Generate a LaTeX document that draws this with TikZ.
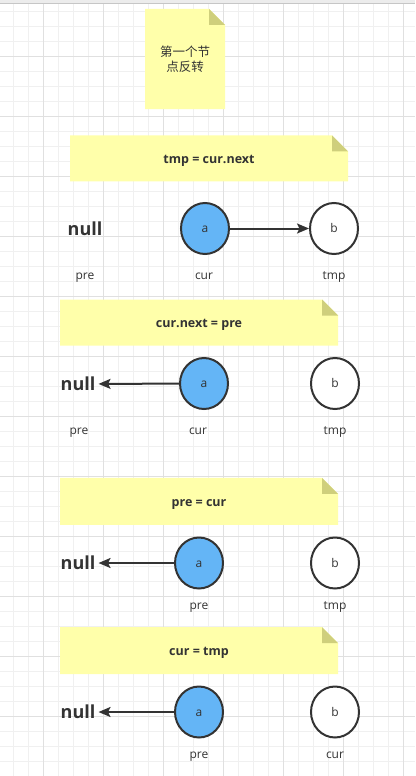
\documentclass[tikz,border=0pt]{standalone}
\usepackage{fontspec}
\setmainfont{Open Sans}
\newfontfamily\cjkfont{Noto Sans CJK SC}
\usetikzlibrary{arrows.meta,shapes.geometric}
\definecolor{notefill}{HTML}{FFFFAA}
\definecolor{notefold}{HTML}{CFCF7C}
\definecolor{nodeblue}{HTML}{64B5F6}
\definecolor{ink}{HTML}{333333}
\definecolor{gridminor}{HTML}{F0F0F0}
\definecolor{gridmajor}{HTML}{E0E0E0}

\begin{document}
\begin{tikzpicture}[x=1pt,y=-1pt]
    \tikzstyle{note}=[rectangle,inner sep=0pt,minimum width=278pt,minimum height=46pt,text=ink,text height=12.5pt,text depth=2pt,
        font=\fontsize{12.5}{15}\selectfont\bfseries,
        path picture={
            \fill[notefill] (path picture bounding box.south west) -- (path picture bounding box.north west)
                -- ([xshift=-16pt]path picture bounding box.north east) -- ([yshift=-16pt]path picture bounding box.north east)
                -- (path picture bounding box.south east) -- cycle;
            \fill[notefold] ([xshift=-16pt]path picture bounding box.north east) -- ([xshift=-16pt,yshift=-16pt]path picture bounding box.north east)
                -- ([yshift=-16pt]path picture bounding box.north east) -- cycle;
        }]
    \tikzstyle{listnode}=[ellipse,draw=ink,line width=2pt,minimum width=48pt,minimum height=51pt,inner sep=0pt,text=ink,
        text height=9pt,text depth=1pt,font=\fontsize{12}{14}\selectfont]
    \tikzstyle{nullnode}=[inner sep=3pt,text=ink,text height=14pt,text depth=1pt,font=\fontsize{18}{20}\selectfont\bfseries]
    \tikzstyle{varname}=[text=ink,text height=9pt,text depth=1pt,font=\fontsize{12}{14}\selectfont]
    \tikzstyle{link}=[ink,line width=2pt,-{Stealth[length=12pt,width=10pt,inset=2.5pt]}]
    \useasboundingbox (0,0) rectangle (415,776);
    \fill[white] (0,0) rectangle (415,776);
    % grid
    \foreach \x in {13.3,28.3,...,410} \draw[gridminor,line width=1pt] (\x,0) -- (\x,776);
    \foreach \y in {11.7,26.7,...,776} \draw[gridminor,line width=1pt] (0,\y) -- (415,\y);
    \foreach \x in {43.3,103.3,...,410} \draw[gridmajor,line width=1pt] (\x,0) -- (\x,776);
    \foreach \y in {56.7,116.7,...,776} \draw[gridmajor,line width=1pt] (0,\y) -- (415,\y);
    \fill[gray!15] (0,0) rectangle (415,3);
    \draw[gray!45] (0,3.5) -- (415,3.5);
    % notes
    \node (note0) at (185,59)    [note,minimum width=80pt,minimum height=100pt,align=center,text height=,text depth=,
                                  font=\cjkfont\fontsize{12.5}{15.5}\selectfont] {第一个节\\点反转};
    \node (note1) at (209,158.3) [note] {tmp = cur.next};
    \node (note2) at (199,322.5) [note] {cur.next = pre};
    \node (note3) at (199,501.3) [note,minimum height=47pt] {pre = cur};
    \node (note4) at (199,650.5) [note,minimum height=47pt] {cur = tmp};
    % step 1
    \node (null1) at (85,229)    [nullnode] {null};
    \node (a1)    at (205,228.5) [listnode,fill=nodeblue] {a};
    \node (b1)    at (334,228.5) [listnode,fill=white] {b};
    \node (pre1)  at (85,275)    [varname] {pre};
    \node (cur1)  at (204,275)   [varname] {cur};
    \node (tmp1)  at (334,275)   [varname] {tmp};
    \draw [link] (a1) -- (b1);
    % step 2
    \node (null2) at (78,384)    [nullnode] {null};
    \node (a2)    at (204,383.5) [listnode,fill=nodeblue] {a};
    \node (b2)    at (335,383.5) [listnode,fill=white] {b};
    \node (pre2)  at (79,430)    [varname] {pre};
    \node (cur2)  at (198,430)   [varname] {cur};
    \node (tmp2)  at (335,430)   [varname] {tmp};
    \draw [link] (a2) -- (null2);
    % step 3
    \node (null3) at (78,563)    [nullnode] {null};
    \node (a3)    at (199,563)   [listnode,fill=nodeblue] {a};
    \node (b3)    at (335,563)   [listnode,fill=white] {b};
    \node (pre3)  at (199,605.5) [varname] {pre};
    \node (tmp3)  at (335,605.5) [varname] {tmp};
    \draw [link] (a3) -- (null3);
    % step 4
    \node (null4) at (78,712)    [nullnode] {null};
    \node (a4)    at (199,712)   [listnode,fill=nodeblue] {a};
    \node (b4)    at (335,712)   [listnode,fill=white] {b};
    \node (pre4)  at (199,754.5) [varname] {pre};
    \node (cur4)  at (335,754.5) [varname] {cur};
    \draw [link] (a4) -- (null4);
\end{tikzpicture}
\end{document}
